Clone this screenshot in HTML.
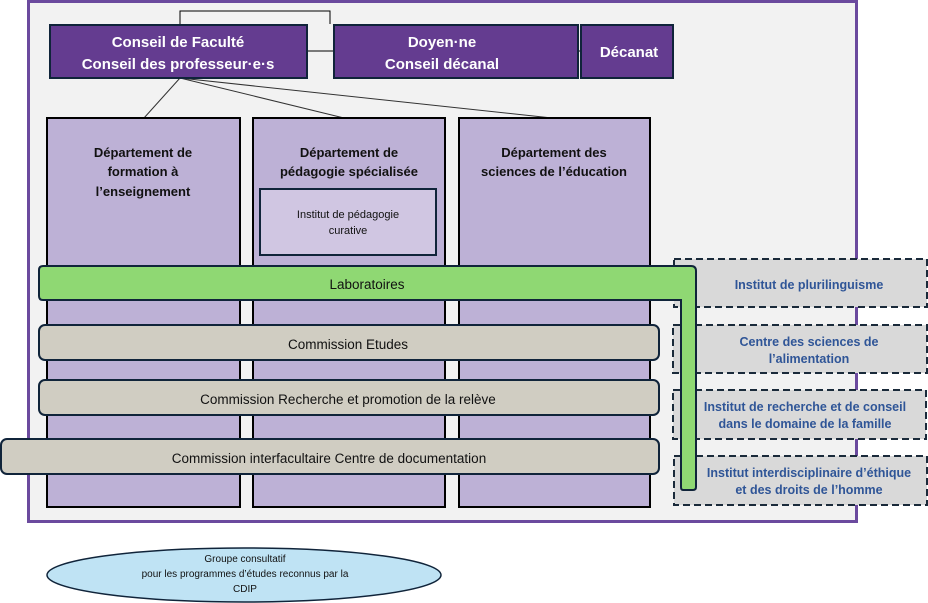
<!DOCTYPE html>
<html><head><meta charset="utf-8"><style>
html,body{margin:0;padding:0;background:#fff;}
svg{display:block;font-family:"Liberation Sans",sans-serif;}
</style></head><body>
<svg width="928" height="603" viewBox="0 0 928 603" xmlns="http://www.w3.org/2000/svg">
<rect x="28.5" y="1.5" width="828" height="520" fill="#f2f2f2" stroke="#6b4a9e" stroke-width="3"/>
<!-- top connector -->
<polyline points="180,24 180,11 330,11 330,24" fill="none" stroke="#000" stroke-width="1"/>
<line x1="307" y1="51" x2="333" y2="51" stroke="#000"/>
<line x1="578" y1="51" x2="581" y2="51" stroke="#000"/>
<line x1="180" y1="78" x2="144" y2="118" stroke="#333"/>
<line x1="180" y1="78" x2="344" y2="118" stroke="#333"/>
<line x1="180" y1="78" x2="552" y2="118" stroke="#333"/>
<!-- top boxes -->
<rect x="50" y="25" width="257" height="53" fill="#643c90" stroke="#10243a" stroke-width="2"/>
<text x="178" y="47" fill="#fff" font-size="15" font-weight="bold" text-anchor="middle">Conseil de Faculté</text>
<text x="178" y="69" fill="#fff" font-size="15" font-weight="bold" text-anchor="middle">Conseil des professeur·e·s</text>
<rect x="334" y="25" width="244" height="53" fill="#643c90" stroke="#10243a" stroke-width="2"/>
<text x="442" y="47" fill="#fff" font-size="15" font-weight="bold" text-anchor="middle">Doyen·ne</text>
<text x="442" y="69" fill="#fff" font-size="15" font-weight="bold" text-anchor="middle">Conseil décanal</text>
<rect x="581" y="25" width="92" height="53" fill="#643c90" stroke="#10243a" stroke-width="2"/>
<text x="629" y="57" fill="#fff" font-size="15" font-weight="bold" text-anchor="middle">Décanat</text>
<!-- dashed boxes -->
<g fill="#d9d9d9" stroke="#1a2a3a" stroke-width="2" stroke-dasharray="7,4">
<rect x="674" y="259" width="253" height="48"/>
<rect x="673" y="325" width="254" height="48"/>
<rect x="673" y="390" width="253" height="49"/>
<rect x="674" y="456" width="253" height="49"/>
</g>
<g fill="#2f5597" font-size="12.5" font-weight="bold" text-anchor="middle">
<text x="809" y="289">Institut de plurilinguisme</text>
<text x="809" y="346">Centre des sciences de</text>
<text x="809" y="363">l’alimentation</text>
<text x="805" y="411">Institut de recherche et de conseil</text>
<text x="805" y="428">dans le domaine de la famille</text>
<text x="809" y="477">Institut interdisciplinaire d’éthique</text>
<text x="809" y="494">et des droits de l’homme</text>
</g>
<!-- columns -->
<g fill="#bdb1d6" stroke="#000" stroke-width="2">
<rect x="47" y="118" width="193" height="389"/>
<rect x="253" y="118" width="192" height="389"/>
<rect x="459" y="118" width="191" height="389"/>
</g>
<g font-size="13" font-weight="bold" text-anchor="middle" fill="#111">
<text x="143" y="157">Département de</text>
<text x="143" y="176">formation à</text>
<text x="143" y="196">l’enseignement</text>
<text x="349" y="157">Département de</text>
<text x="349" y="176">pédagogie spécialisée</text>
<text x="554" y="157">Département des</text>
<text x="554" y="176">sciences de l’éducation</text>
</g>
<rect x="260" y="189" width="176" height="66" fill="#d0c6e2" stroke="#10243a" stroke-width="2"/>
<text x="348" y="218" font-size="11" text-anchor="middle" fill="#111">Institut de pédagogie</text>
<text x="348" y="234" font-size="11" text-anchor="middle" fill="#111">curative</text>
<!-- green L -->
<path d="M43,266 H691 Q696,266 696,271 V487 Q696,490 693,490 H683 Q681,490 681,487 V300 H43 Q39,300 39,296 V270 Q39,266 43,266 Z" fill="#8fd873" stroke="#10243a" stroke-width="2"/>
<text x="367" y="289" font-size="13.5" text-anchor="middle" fill="#111">Laboratoires</text>
<!-- commissions -->
<g fill="#d0cdc2" stroke="#10243a" stroke-width="2">
<rect x="39" y="325" width="620" height="35" rx="6"/>
<rect x="39" y="380" width="620" height="35" rx="6"/>
<rect x="1" y="439" width="658" height="35" rx="6"/>
</g>
<g font-size="13.5" text-anchor="middle" fill="#111">
<text x="348" y="349">Commission Etudes</text>
<text x="348" y="404">Commission Recherche et promotion  de la relève</text>
<text x="329" y="463">Commission interfacultaire Centre de documentation</text>
</g>
<!-- ellipse -->
<ellipse cx="244" cy="575" rx="197" ry="27" fill="#bfe3f4" stroke="#10243a" stroke-width="1.5"/>
<g font-size="10" text-anchor="middle" fill="#111">
<text x="245" y="562">Groupe consultatif</text>
<text x="245" y="577">pour les programmes d’études reconnus par la</text>
<text x="245" y="592">CDIP</text>
</g>
</svg>
</body></html>
